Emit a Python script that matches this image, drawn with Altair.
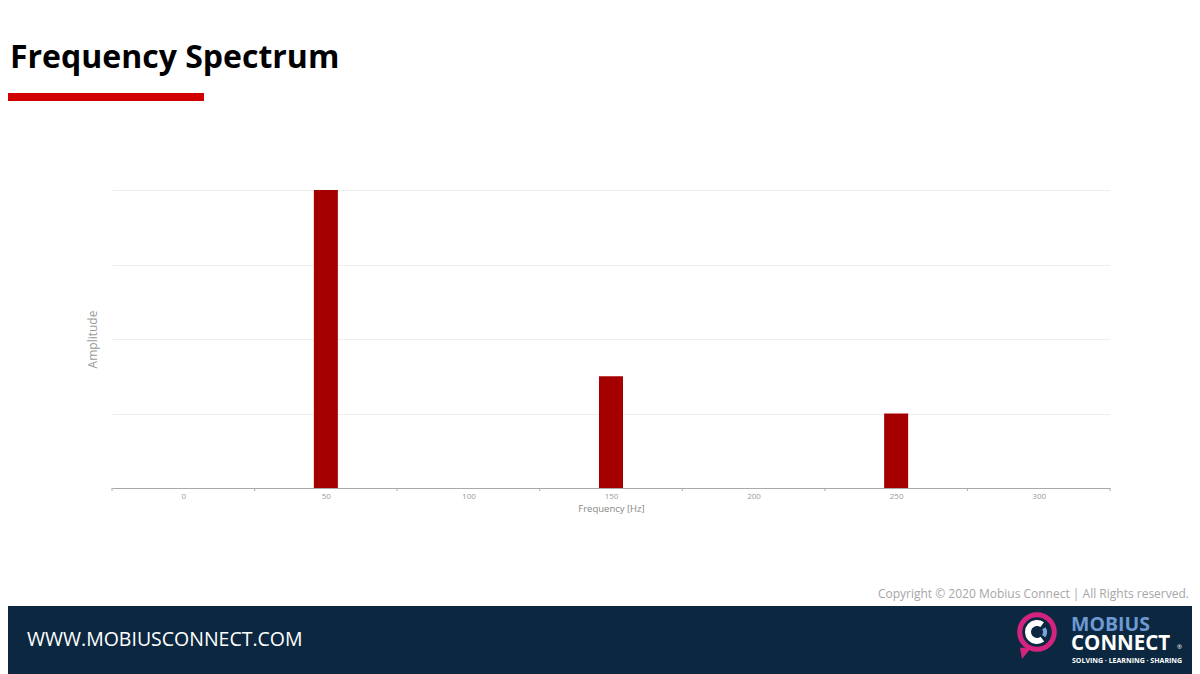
import altair as alt
import pandas as pd

# ---- data ----
freqs = [0, 50, 100, 150, 200, 250, 300]
amps = [0, 4, 0, 1.5, 0, 1.0, 0]
tick_labels = [0, 50, 100, 150, 200, 250, 300]
band_edges = [-25, 25, 75, 125, 175, 225, 275, 325]
y_grid = [0, 1, 2, 3, 4]

title_text = ["Frequency Spectrum"]
copyright_text = ["Copyright \u00a9 2020 Mobius Connect | All Rights reserved."]
url_text = ["WWW.MOBIUSCONNECT.COM"]

FONT = "Open Sans"
W, H = 998, 298

bars_df = pd.DataFrame({"freq": freqs, "amp": amps})
edges_df = pd.DataFrame({"freq": band_edges})
one = pd.DataFrame({"k": [0]})

xscale = alt.Scale(domain=[-25, 325], nice=False, zero=False, padding=0)
yscale = alt.Scale(domain=[0, 4], nice=False)

bars = alt.Chart(bars_df).mark_bar(color="#a50000", size=24).encode(
    x=alt.X("freq:Q", scale=xscale,
            axis=alt.Axis(values=tick_labels, ticks=False, grid=False,
                          title="Frequency [Hz]", domainColor="#aaaaaa",
                          labelColor="#9a9a9a", labelFontSize=8, labelFont=FONT,
                          labelPadding=4, titleFont=FONT, titleFontSize=9.5,
                          titleFontWeight="normal", titleColor="#888888",
                          titlePadding=3)),
    y=alt.Y("amp:Q", scale=yscale,
            axis=alt.Axis(values=y_grid, labels=False, ticks=False, domain=False,
                          grid=True, gridColor="#eeeeee", title="Amplitude",
                          titleFont=FONT, titleFontSize=12, titleFontWeight="normal",
                          titleColor="#9a9a9a", titlePadding=13)),
)

edge_ticks = alt.Chart(edges_df).mark_rule(color="#aaaaaa", strokeWidth=1).encode(
    x=alt.X("freq:Q", scale=xscale),
    y=alt.value(H),
    y2=alt.value(H + 3),
)

# ---- slide decorations (pixel positions relative to plot origin) ----
footer = alt.Chart(one).mark_rect(color="#0c2841").encode(
    x=alt.value(-104), x2=alt.value(1080), y=alt.value(416), y2=alt.value(484)
)
red_bar = alt.Chart(one).mark_rect(color="#d10000").encode(
    x=alt.value(-104), x2=alt.value(92), y=alt.value(-97), y2=alt.value(-89)
)
title = alt.Chart(pd.DataFrame({"t": title_text})).mark_text(
    font=FONT, fontSize=32, fontWeight="bold", color="#000000",
    align="left", baseline="alphabetic"
).encode(x=alt.value(-102), y=alt.value(-122), text="t:N")

copyright = alt.Chart(pd.DataFrame({"t": copyright_text})).mark_text(
    font=FONT, fontSize=12, color="#a6a6a6", align="right", baseline="alphabetic"
).encode(x=alt.value(1077), y=alt.value(408), text="t:N")

url = alt.Chart(pd.DataFrame({"t": url_text})).mark_text(
    font=FONT, fontSize=19.5, color="#ffffff", align="left", baseline="alphabetic"
).encode(x=alt.value(-85), y=alt.value(456), text="t:N")

# logo
cx, cy = 925, 442
ring = alt.Chart(one).mark_point(shape="circle", filled=False, stroke="#d4237f",
                                 strokeWidth=5, size=1195, opacity=1).encode(
    x=alt.value(cx), y=alt.value(cy))
tail = alt.Chart(one).mark_point(shape="M -1 -0.6 L 0.6 -0.6 L -0.7 1 Z", filled=True,
                                 color="#d4237f", size=200, opacity=1).encode(
    x=alt.value(cx - 10), y=alt.value(cy + 20))
c_arc = alt.Chart(one).mark_arc(color="#ffffff").encode(
    x=alt.value(cx), y=alt.value(cy), theta=alt.value(2.5), theta2=alt.value(6.9),
    radius=alt.value(12), radius2=alt.value(6))
c_blue = alt.Chart(one).mark_arc(color="#7aa5d8").encode(
    x=alt.value(cx + 1), y=alt.value(cy), theta=alt.value(1.0), theta2=alt.value(2.2),
    radius=alt.value(9), radius2=alt.value(5))
mobius = alt.Chart(pd.DataFrame({"t": ["MOBIUS"]})).mark_text(
    font=FONT, fontSize=19.5, fontWeight="bold", color="#6d9ad3", align="left",
    baseline="alphabetic").encode(x=alt.value(959), y=alt.value(441), text="t:N")
connect = alt.Chart(pd.DataFrame({"t": ["CONNECT"]})).mark_text(
    font=FONT, fontSize=20.5, fontWeight="bold", color="#ffffff", align="left",
    baseline="alphabetic").encode(x=alt.value(959), y=alt.value(460), text="t:N")
reg = alt.Chart(pd.DataFrame({"t": ["\u00ae"]})).mark_text(
    font=FONT, fontSize=6, color="#ffffff", align="left",
    baseline="alphabetic").encode(x=alt.value(1065), y=alt.value(459), text="t:N")
tagline = alt.Chart(pd.DataFrame({"t": ["SOLVING \u00b7 LEARNING \u00b7 SHARING"]})).mark_text(
    font=FONT, fontSize=7, fontWeight="bold", color="#ffffff", align="left",
    baseline="alphabetic").encode(x=alt.value(960), y=alt.value(473), text="t:N")

chart = alt.layer(
    footer, red_bar, title, copyright, url,
    ring, tail, c_arc, c_blue, mobius, connect, reg, tagline,
    bars, edge_ticks,
).properties(
    width=W, height=H,
    autosize=alt.AutoSizeParams(type="none"),
    padding={"left": 104, "top": 182, "right": 82, "bottom": 186},
    background="#ffffff",
).configure_view(stroke=None)

chart.save("out.html", embed_options={"renderer": "svg", "actions": False})
